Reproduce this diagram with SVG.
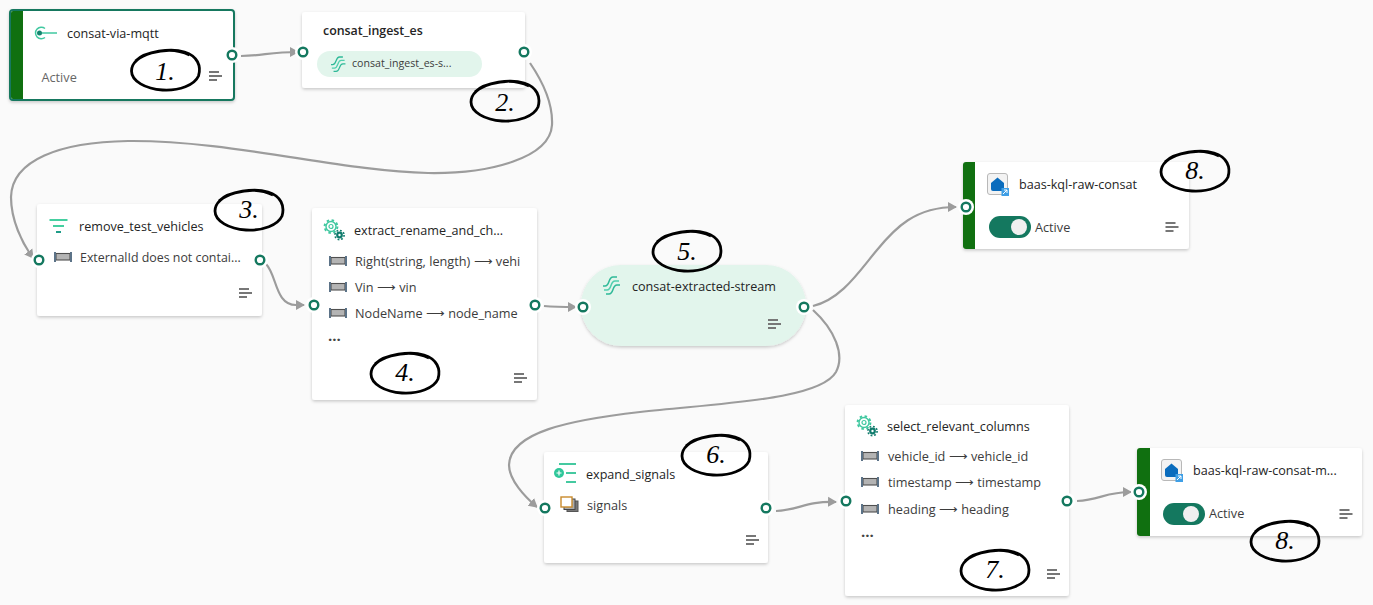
<svg xmlns="http://www.w3.org/2000/svg" width="1373" height="605" viewBox="0 0 1373 605">
<style>
text{font-family:"Open Sans","Noto Sans","Liberation Sans",sans-serif;font-size:12.7px;fill:#3c3c3c}
.t{font-weight:500;font-size:12.6px;fill:#242424}
.b{font-weight:600;font-size:12.4px;fill:#242424}
.dots{font-weight:700;font-size:15px;fill:#444}
.hand{font-family:"Liberation Serif",serif;font-style:italic;font-size:26px;fill:#000;text-anchor:middle}
.card{fill:#fff;filter:url(#sh)}
.port{fill:#fff;stroke:#14785f;stroke-width:2.4}
.halo{fill:#fff}
.c{fill:none;stroke:#9c9c9c;stroke-width:2.2;marker-end:url(#ah)}
.scr{fill:none;stroke:#000;stroke-width:2.8}
.bar{fill:#107010}
</style>
<defs>
<filter id="sh" x="-5%" y="-5%" width="110%" height="115%"><feDropShadow dx="0" dy="1.5" stdDeviation="1.5" flood-color="#000" flood-opacity="0.2"/></filter>
<marker id="ah" markerUnits="userSpaceOnUse" markerWidth="10" markerHeight="12" refX="8" refY="6" orient="auto"><path d="M0,1 L9,6 L0,11 Z" fill="#9c9c9c"/></marker>
<g id="menu"><path d="M0,1H10M0,5H13M0,9H8" fill="none" stroke="#777" stroke-width="2"/></g>
<g id="field"><rect x="2" y="1.500" width="14" height="6.500" fill="#b4b4b4" stroke="#4f4f4f" stroke-width="1.100"/><path d="M1,0V10M17,0V10" stroke="#5c7388" stroke-width="2"/></g>
<g id="stream" fill="none" stroke-width="1.500"><path d="M0,9H2C7,9 5,0 10,0H14" stroke="#2fb998"/><path d="M1,13H4C9,13 7,4 12,4H16" stroke="#50cfae"/><path d="M3,17H6C11,17 9,8 14,8H17" stroke="#2fb998"/></g>
<g id="gears"><circle cx="8" cy="7.500" r="5" fill="#fff" stroke="#40c8a0" stroke-width="1.400"/><circle cx="8" cy="7.500" r="6.400" fill="none" stroke="#40c8a0" stroke-width="2" stroke-dasharray="2.500 2.500"/><circle cx="8" cy="7.500" r="2" fill="none" stroke="#40c8a0" stroke-width="1.200"/><circle cx="16.500" cy="16" r="3.400" fill="#0f7b6c"/><circle cx="16.500" cy="16" r="4.600" fill="none" stroke="#0f7b6c" stroke-width="1.600" stroke-dasharray="1.800 1.800"/><circle cx="16.500" cy="16" r="1.200" fill="#fff"/></g>
<g id="db"><rect x="0.500" y="0.500" width="20" height="21" rx="2.500" fill="#f3f3f3" stroke="#b8b8b8"/><path d="M4,10L10.500,4.500L17,10V16Q17,18 15,18H6Q4,18 4,16Z" fill="#0a6cbd"/><rect x="14.500" y="15" width="7.500" height="8" fill="#3f9fe6"/><path d="M16,21L20,17M17,17H20V20" stroke="#fff" stroke-width="1" fill="none"/></g>
<path id="scr" d="M-30,-9C-20,-19 6,-22 19,-18C32,-14 36,-4 33,6C29,15 14,21 -3,20C-20,19 -34,11 -34,1C-34,-7 -27,-13 -14,-17C0,-21 14,-20 24,-15"/>
</defs>
<rect width="1373" height="605" fill="#fafafa"/>
<g id="connectors">
<path class="c" d="M241,56C262,56 270,52 298,52"/>
<path class="c" d="M530,63C545,85 553,105 552,125C550,158 490,174 428,173C340,171 230,140 128,141C60,142 12,160 11,197C11,220 22,243 33,258"/>
<path class="c" d="M266,264C277,275 275,305 296,305H304"/>
<path class="c" d="M544,306C555,307 565,307 576,307"/>
<path class="c" d="M813,306C842,299 860,270 877,250C895,228 915,207 956,207"/>
<path class="c" d="M813,310C835,330 845,355 836,372C820,400 720,403 640,412C570,420 510,432 509,465C509,480 525,497 537,507"/>
<path class="c" d="M776,511C800,510 805,501 836,502"/>
<path class="c" d="M1077,501C1100,500 1105,492 1131,492"/>
</g>
<g id="node-1">
<rect x="10" y="10" width="224" height="90" rx="3" class="card" stroke="#14785f" stroke-width="2"/>
<path d="M11,13Q11,11 13,11H23V99H13Q11,99 11,97Z" class="bar"/>
<circle cx="39.500" cy="33" r="2.500" fill="#14856f"/><path d="M45,28.500A5.800,5.800 0 1 0 45,37.500" fill="none" stroke="#40c8a0" stroke-width="1.500"/><path d="M42,33H57" stroke="#40c8a0" stroke-width="1.500"/>
<text x="67" y="38" class="t">consat-via-mqtt</text>
<text x="41.500" y="82" style="fill:#666">Active</text>
<use href="#menu" x="209" y="71"/>
<circle cx="232" cy="55" r="8" class="halo"/><circle cx="232" cy="55" r="4.300" class="port"/>
</g>
<g id="node-2">
<rect x="302" y="12" width="223" height="76" rx="3" class="card"/>
<text x="323" y="35" class="b">consat_ingest_es</text>
<rect x="317" y="51" width="165" height="26" rx="13" fill="#e2f5ec"/>
<use href="#stream" transform="translate(331,57) scale(0.850)"/>
<text x="352" y="67" style="font-size:10.600px">consat_ingest_es-s...</text>
<circle cx="303" cy="52" r="8" class="halo"/><circle cx="303" cy="52" r="4.300" class="port"/>
<circle cx="524" cy="52" r="8" class="halo"/><circle cx="524" cy="52" r="4.300" class="port"/>
</g>
<g id="node-3">
<rect x="37" y="204" width="225" height="112" rx="3" class="card"/>
<path d="M49.500,220H67.500" stroke="#45cfa0" stroke-width="2"/><path d="M53,226H64" stroke="#45cfa0" stroke-width="2"/><path d="M56,232H61" stroke="#1f9c88" stroke-width="2"/>
<text x="79" y="231" class="t">remove_test_vehicles</text>
<use href="#field" x="54" y="252"/>
<text x="80" y="262" style="font-size:12.400px">ExternalId does not contai...</text>
<use href="#menu" x="239" y="288"/>
<circle cx="39" cy="260" r="8" class="halo"/><circle cx="39" cy="260" r="4.300" class="port"/>
<circle cx="260" cy="260" r="8" class="halo"/><circle cx="260" cy="260" r="4.300" class="port"/>
</g>
<g id="node-4">
<rect x="312" y="208" width="225" height="192" rx="3" class="card"/>
<use href="#gears" x="323" y="219"/>
<text x="354" y="235" class="t">extract_rename_and_ch...</text>
<use href="#field" x="329" y="256"/><text x="355" y="266">Right(string, length) ⟶ vehi</text>
<use href="#field" x="329" y="282"/><text x="355" y="292">Vin ⟶ vin</text>
<use href="#field" x="329" y="308"/><text x="355" y="318">NodeName ⟶ node_name</text>
<text x="328" y="341" class="dots">...</text>
<use href="#menu" x="514" y="373"/>
<circle cx="314" cy="305" r="8" class="halo"/><circle cx="314" cy="305" r="4.300" class="port"/>
<circle cx="535" cy="305" r="8" class="halo"/><circle cx="535" cy="305" r="4.300" class="port"/>
</g>
<g id="node-5">
<rect x="581" y="265" width="225" height="81" rx="40" fill="#e2f5ec" filter="url(#sh)"/>
<use href="#stream" transform="translate(603,277)"/>
<text x="632" y="291" class="t">consat-extracted-stream</text>
<use href="#menu" x="768" y="319"/>
<circle cx="583" cy="307" r="8" class="halo"/><circle cx="583" cy="307" r="4.300" class="port"/>
<circle cx="804" cy="307" r="8" class="halo"/><circle cx="804" cy="307" r="4.300" class="port"/>
</g>
<g id="node-8a">
<rect x="963" y="162" width="226" height="87" rx="3" class="card"/>
<path d="M963,165Q963,162 966,162H975V249H966Q963,249 963,246Z" class="bar"/>
<use href="#db" x="987" y="173"/>
<text x="1019" y="189" class="t">baas-kql-raw-consat</text>
<rect x="989" y="216" width="42" height="22" rx="11" fill="#14785f"/><circle cx="1019" cy="227" r="8" fill="#f0f0f0"/>
<text x="1035" y="232">Active</text>
<use href="#menu" x="1165.500" y="222"/>
<circle cx="966" cy="207" r="8" class="halo"/><circle cx="966" cy="207" r="4.300" class="port"/>
</g>
<g id="node-6">
<rect x="544" y="452" width="224" height="111" rx="3" class="card"/>
<path d="M559,464H576M566,473H576M566,482H576" stroke="#45c9a0" stroke-width="2"/><circle cx="559" cy="473" r="5" fill="#2fc79a"/><path d="M556.500,473H561.500M559,470.500V475.500" stroke="#fff" stroke-width="1.200"/>
<text x="586" y="479" class="t">expand_signals</text>
<rect x="567" y="501" width="11" height="10.500" fill="#777" stroke="#555"/><rect x="564" y="499" width="11" height="10.500" fill="#aaa" stroke="#444"/><rect x="561" y="497" width="11" height="10" fill="#fff" stroke="#c98a2b" stroke-width="1.400"/>
<text x="587" y="510">signals</text>
<use href="#menu" x="746" y="535"/>
<circle cx="545" cy="508" r="8" class="halo"/><circle cx="545" cy="508" r="4.300" class="port"/>
<circle cx="766" cy="508" r="8" class="halo"/><circle cx="766" cy="508" r="4.300" class="port"/>
</g>
<g id="node-7">
<rect x="845" y="405" width="224" height="191" rx="3" class="card"/>
<use href="#gears" x="856" y="415"/>
<text x="887" y="431" class="t">select_relevant_columns</text>
<use href="#field" x="861" y="451"/><text x="888" y="461">vehicle_id ⟶ vehicle_id</text>
<use href="#field" x="861" y="477"/><text x="888" y="487">timestamp ⟶ timestamp</text>
<use href="#field" x="861" y="504"/><text x="888" y="514">heading ⟶ heading</text>
<text x="861" y="537" class="dots">...</text>
<use href="#menu" x="1047" y="569"/>
<circle cx="846" cy="501" r="8" class="halo"/><circle cx="846" cy="501" r="4.300" class="port"/>
<circle cx="1067" cy="501" r="8" class="halo"/><circle cx="1067" cy="501" r="4.300" class="port"/>
</g>
<g id="node-8b">
<rect x="1137" y="448" width="225" height="88" rx="3" class="card"/>
<path d="M1137,451Q1137,448 1140,448H1150V536H1140Q1137,536 1137,533Z" class="bar"/>
<use href="#db" x="1161" y="459"/>
<text x="1193" y="475" class="t">baas-kql-raw-consat-m...</text>
<rect x="1163" y="503" width="42" height="22" rx="11" fill="#14785f"/><circle cx="1191" cy="514" r="8" fill="#f0f0f0"/>
<text x="1209" y="518">Active</text>
<use href="#menu" x="1339.500" y="509"/>
<circle cx="1139" cy="492" r="8" class="halo"/><circle cx="1139" cy="492" r="4.300" class="port"/>
</g>
<g id="annotations">
<use href="#scr" x="165.500" y="70" class="scr"/><text x="165" y="80" class="hand">1.</text>
<use href="#scr" x="505" y="101" class="scr"/><text x="505" y="111" class="hand">2.</text>
<use href="#scr" x="249" y="210" class="scr"/><text x="249" y="218" class="hand">3.</text>
<use href="#scr" x="405" y="373" class="scr"/><text x="405" y="381" class="hand">4.</text>
<use href="#scr" x="687" y="251" class="scr"/><text x="687" y="260" class="hand">5.</text>
<use href="#scr" x="716" y="455" class="scr"/><text x="716" y="463" class="hand">6.</text>
<use href="#scr" x="995" y="570" class="scr"/><text x="995" y="578" class="hand">7.</text>
<use href="#scr" x="1195" y="171" class="scr"/><text x="1195" y="179" class="hand">8.</text>
<use href="#scr" x="1285" y="541" class="scr"/><text x="1285" y="549" class="hand">8.</text>
</g>
</svg>
